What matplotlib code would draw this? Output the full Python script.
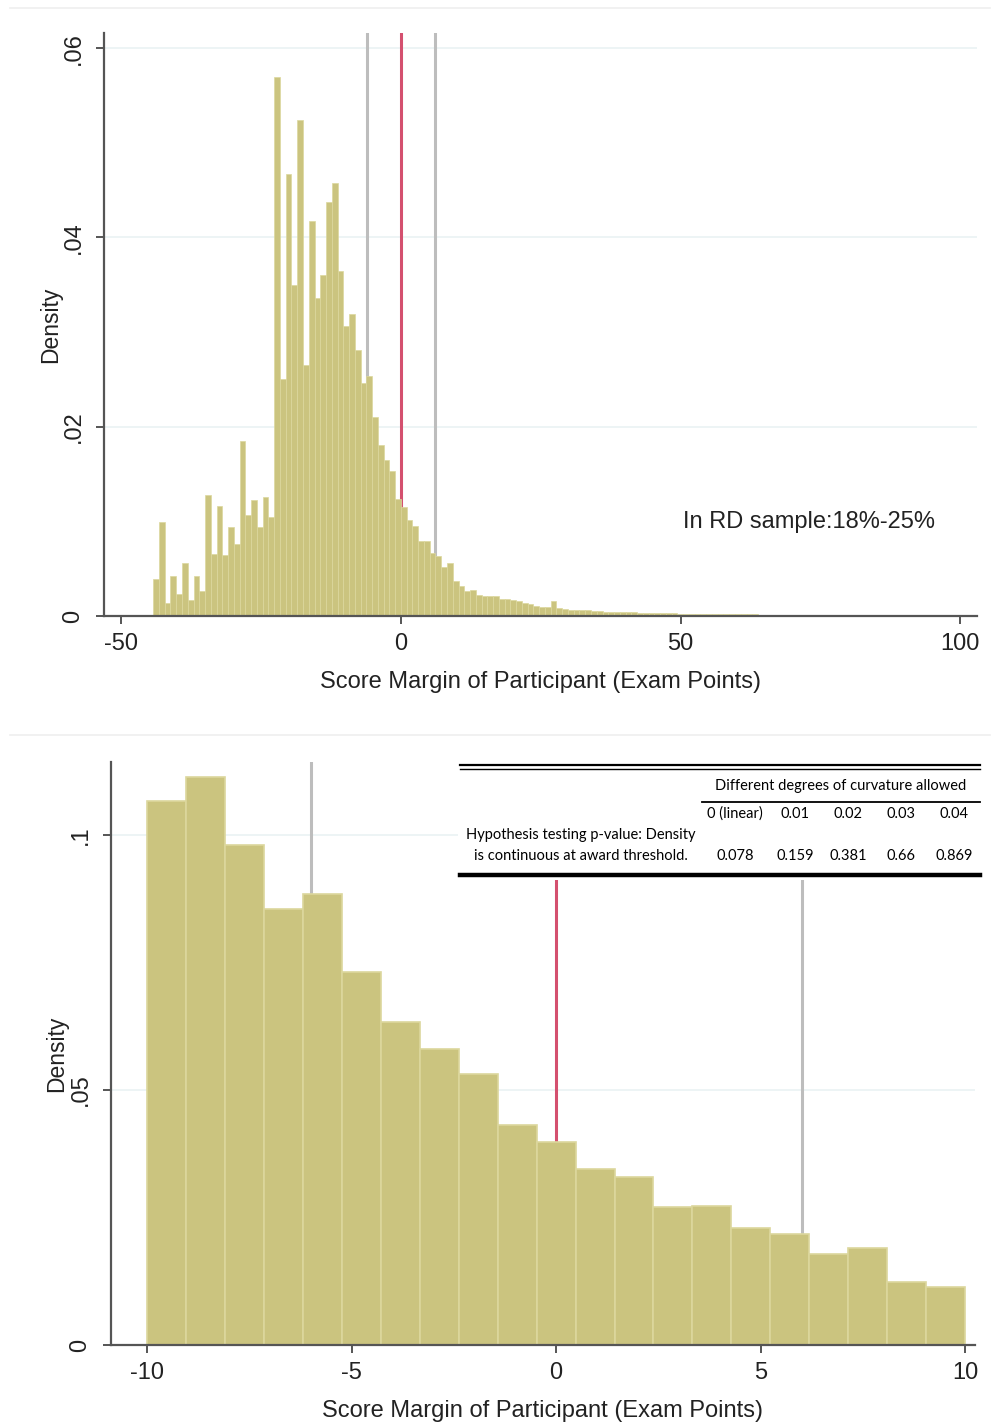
import matplotlib
matplotlib.use("Agg")
import matplotlib.pyplot as plt
from matplotlib.lines import Line2D
from matplotlib.patches import Rectangle
import numpy as np

plt.rcParams['font.family'] = ['Liberation Sans', 'DejaVu Sans']
plt.rcParams['axes.unicode_minus'] = False

# ---- data: full-range histogram (top) ----
top_bin_start = -44.3
top_bin_width = 1.03
top_density = [
    # below the threshold
    0.0039, 0.0099, 0.0014, 0.0042, 0.0023, 0.0056, 0.0017, 0.0042, 0.0026, 0.0128,
    0.0066, 0.0116, 0.0064, 0.0094, 0.0076, 0.0185, 0.0107, 0.0123, 0.0094, 0.0126,
    0.0105, 0.0569, 0.0250, 0.0467, 0.0350, 0.0524, 0.0265, 0.0417, 0.0336, 0.0360,
    0.0437, 0.0458, 0.0365, 0.0306, 0.0319, 0.0281, 0.0246, 0.0254, 0.0210, 0.0181,
    0.0165, 0.0153, 0.0124,
    # above the threshold
    0.0115, 0.0101, 0.0095, 0.0079, 0.0079, 0.0067, 0.0063, 0.0052, 0.0056, 0.0037,
    0.0032, 0.0026, 0.0028, 0.0022, 0.0021, 0.0021, 0.0021, 0.0018, 0.0018, 0.0017,
    0.0016, 0.0014, 0.0013, 0.0011, 0.0010, 0.0009, 0.0016, 0.0008, 0.0007, 0.0006,
    0.0006, 0.0006, 0.0006, 0.0005, 0.0005, 0.0004, 0.0004, 0.0004, 0.0004, 0.0004,
    0.0004, 0.0003, 0.0003, 0.0003, 0.0003, 0.0003, 0.0003, 0.0003, 0.0002, 0.0002,
    0.0002, 0.0002, 0.0002, 0.0002, 0.0002, 0.0002, 0.0002, 0.0002, 0.0002, 0.0002,
    0.0002, 0.0002,
    # far tail
    0.0001, 0.0001, 0.0001, 0.0001, 0.0001, 0.0001, 0.0001, 0.0001, 0.00008, 0.00008,
    0.00008, 0.00008, 0.00006, 0.00006, 0.00006, 0.00006, 0.00006, 0.00005, 0.00005, 0.00005,
    0.00005, 0.00005, 0.00005, 0.00005, 0.00005, 0.00005, 0.00005, 0.00005, 0.00005, 0.00005,
    0.00005, 0.00005, 0.00005, 0.00005,
]
top_xticks = [-50, 0, 50, 100]
top_yticks = [0, 0.02, 0.04, 0.06]
top_yticklabels = ["0", ".02", ".04", ".06"]

# ---- data: zoomed histogram (bottom) ----
bot_range = (-10, 10)
bot_density = [0.1067, 0.1113, 0.0981, 0.0854, 0.0885, 0.0732, 0.0633, 0.0580, 0.0531, 0.0432,
               0.0398, 0.0346, 0.0329, 0.0271, 0.0273, 0.0230, 0.0218, 0.0178, 0.0191, 0.0124,
               0.0114]
bot_xticks = [-10, -5, 0, 5, 10]
bot_yticks = [0, 0.05, 0.1]
bot_yticklabels = ["0", ".05", ".1"]

threshold = 0
bandwidth_lines = [-6, 6]
rd_note = "In RD sample:18%-25%"
xlabel = "Score Margin of Participant (Exam Points)"

table_title = "Different degrees of curvature allowed"
table_cols = ["0 (linear)", "0.01", "0.02", "0.03", "0.04"]
table_rowlabel = ["Hypothesis testing p-value: Density", "is continuous at award threshold."]
table_pvalues = ["0.078", "0.159", "0.381", "0.66", "0.869"]

# ---- styling ----
BAR = '#cbc47f'
BAR_EDGE = '#dcd79d'
RED = '#d4506f'
GRAY = '#bdbdbd'
GRID = '#eaf2f3'
SPINE = '#555555'
TXT = '#222222'

W, H = 992, 1423
fig = plt.figure(figsize=(W / 100, H / 100), dpi=100)


def fx(px):
    return px / W


def fy(py):
    return 1 - py / H


def style_axes(ax, yticks, yticklabels, xticks):
    for s in ['top', 'right']:
        ax.spines[s].set_visible(False)
    for s in ['left', 'bottom']:
        ax.spines[s].set_color(SPINE)
        ax.spines[s].set_linewidth(1.6)
    ax.set_yticks(yticks)
    ax.set_yticklabels(yticklabels, rotation=90, va='center')
    ax.set_xticks(xticks)
    ax.tick_params(axis='both', length=6, width=1.4, color=SPINE,
                   labelsize=17, labelcolor=TXT)
    ax.tick_params(axis='x', pad=6)
    ax.tick_params(axis='y', pad=8)
    for y in yticks[1:]:
        ax.axhline(y, color=GRID, lw=1.2, zorder=0)


# ---- top panel ----
ax1 = fig.add_axes([fx(104), fy(616), fx(977) - fx(104), fy(33) - fy(616)])
n_top = len(top_density)
top_left = top_bin_start + top_bin_width * np.arange(n_top)
for xv in bandwidth_lines:
    ax1.axvline(xv, color=GRAY, lw=2.2, zorder=1)
ax1.axvline(threshold, color=RED, lw=2.2, zorder=1)
ax1.bar(top_left, top_density, width=top_bin_width, align='edge',
        color=BAR, edgecolor=BAR_EDGE, linewidth=0.5, zorder=2)
ax1.set_xlim(-53.1, 103)
ax1.set_ylim(0, 0.0616)
style_axes(ax1, top_yticks, top_yticklabels, top_xticks)
ax1.set_ylabel("Density", fontsize=16.5, color=TXT, labelpad=0)
ax1.set_xlabel(xlabel, fontsize=17, color=TXT, labelpad=12)
ax1.text(50.4, 0.0099, rd_note, fontsize=17, color=TXT, ha='left', va='center')

# ---- bottom panel ----
ax2 = fig.add_axes([fx(111), fy(1345), fx(975) - fx(111), fy(762) - fy(1345)])
bot_edges = np.linspace(bot_range[0], bot_range[1], len(bot_density) + 1)
bot_width = bot_edges[1] - bot_edges[0]
for xv in bandwidth_lines:
    ax2.axvline(xv, color=GRAY, lw=2.2, zorder=1)
ax2.axvline(threshold, color=RED, lw=2.2, zorder=1)
ax2.bar(bot_edges[:-1], bot_density, width=bot_width, align='edge',
        color=BAR, edgecolor=BAR_EDGE, linewidth=1.2, zorder=2)
ax2.set_xlim(-10.88, 10.24)
ax2.set_ylim(0, 0.1143)
style_axes(ax2, bot_yticks, bot_yticklabels, bot_xticks)
ax2.set_ylabel("Density", fontsize=16.5, color=TXT, labelpad=1)
ax2.set_xlabel(xlabel, fontsize=17, color=TXT, labelpad=12)

# ---- panel separators ----
for py in [8, 735]:
    fig.add_artist(Line2D([fx(10), fx(990)], [fy(py), fy(py)], color='#efefef', lw=1.2))

# ---- table overlay ----
fig.add_artist(Rectangle((fx(458), fy(880)), fx(982) - fx(458), fy(760) - fy(880),
                         facecolor='white', edgecolor='none', zorder=3))
fig.add_artist(Line2D([fx(460), fx(980)], [fy(765), fy(765)], color='black', lw=1.6, zorder=4))
fig.add_artist(Line2D([fx(460), fx(980)], [fy(769), fy(769)], color='black', lw=1.0, zorder=4))
fig.add_artist(Line2D([fx(702), fx(980)], [fy(802), fy(802)], color='black', lw=1.3, zorder=4))
fig.add_artist(Line2D([fx(460), fx(980)], [fy(875), fy(875)], color='black', lw=3.2, zorder=4))

tfont = dict(family=['Lato', 'DejaVu Sans'], fontsize=10.5, color='black', zorder=5)
fig.text(fx(841), fy(786), table_title, ha='center', va='center', **tfont)
col_x = [735, 795, 848, 901, 954]
for cx, lab, pv in zip(col_x, table_cols, table_pvalues):
    fig.text(fx(cx), fy(814), lab, ha='center', va='center', **tfont)
    fig.text(fx(cx), fy(856), pv, ha='center', va='center', **tfont)
fig.text(fx(581), fy(835), table_rowlabel[0], ha='center', va='center', **tfont)
fig.text(fx(581), fy(856), table_rowlabel[1], ha='center', va='center', **tfont)

fig.savefig("out.png", dpi=100)
